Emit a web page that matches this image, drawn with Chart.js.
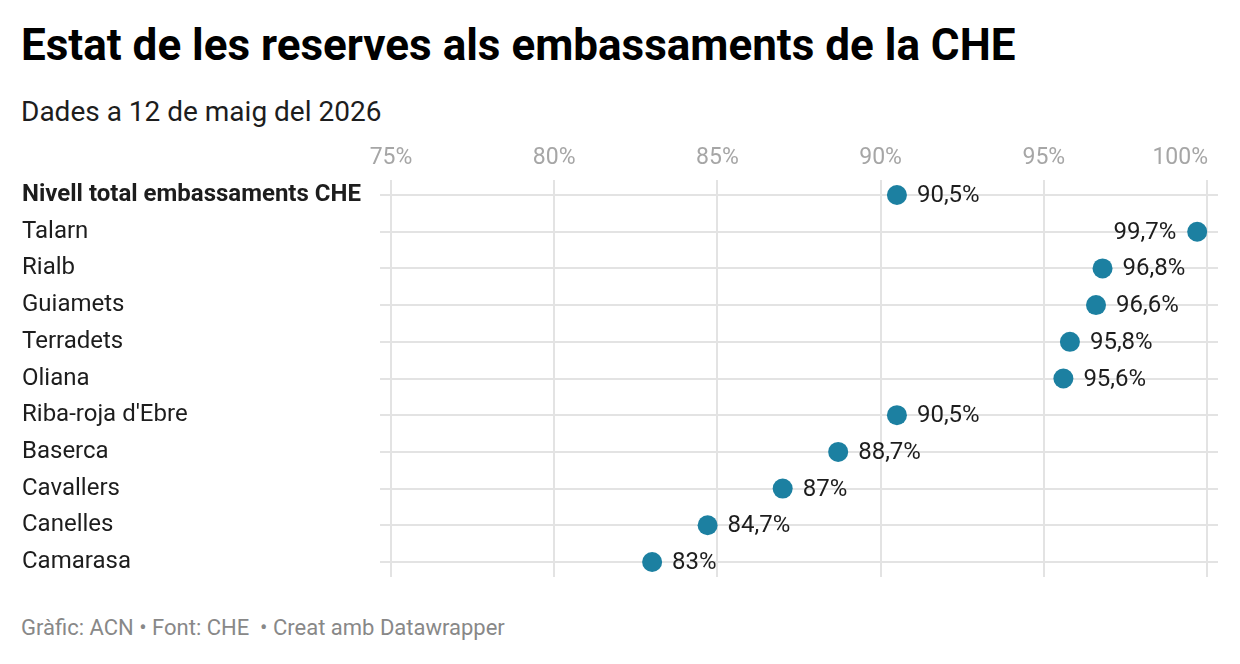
<!DOCTYPE html>
<html><head><meta charset="utf-8">
<script src="https://cdn.jsdelivr.net/npm/chart.js@4"></script>
<style>
html,body{margin:0;padding:0;background:#fff;width:1240px;height:664px;overflow:hidden;font-family:Roboto,"Noto Sans",sans-serif;}
#title{position:absolute;left:21px;top:19px;font-size:44px;font-weight:700;color:#000;white-space:nowrap}
#sub{position:absolute;left:21px;top:95px;font-size:28px;color:#1d1d1d;white-space:nowrap}
#foot{position:absolute;left:21px;top:615px;font-size:22px;color:#888;white-space:pre}
#wrap{position:absolute;left:0;top:0;width:1240px;height:664px}
</style></head><body>
<div id="title">Estat de les reserves als embassaments de la CHE</div>
<div id="sub">Dades a 12 de maig del 2026</div>
<div id="foot">Gràfic: ACN • Font: CHE  • Creat amb Datawrapper</div>
<div id="wrap"><canvas id="c" width="1240" height="664"></canvas></div>
<script>
const categories = ["Nivell total embassaments CHE","Talarn","Rialb","Guiamets","Terradets","Oliana","Riba-roja d'Ebre","Baserca","Cavallers","Canelles","Camarasa"];
const values = [90.5, 99.7, 96.8, 96.6, 95.8, 95.6, 90.5, 88.7, 87, 84.7, 83];
const valueLabels = ["90,5%","99,7%","96,8%","96,6%","95,8%","95,6%","90,5%","88,7%","87%","84,7%","83%"];
const xTicks = [75, 80, 85, 90, 95, 100];
const xTickLabels = ["75%","80%","85%","90%","95%","100%"];

const labelPlugin = {
  id: 'valLabels',
  afterDatasetsDraw(chart) {
    const ctx = chart.ctx;
    const meta = chart.getDatasetMeta(0);
    ctx.save();
    ctx.font = '24px Roboto';
    ctx.fillStyle = '#1d1d1d';
    ctx.textBaseline = 'middle';
    meta.data.forEach((pt, i) => {
      const left = values[i] > 99;
      ctx.textAlign = left ? 'right' : 'left';
      const x = left ? pt.x - 21 : pt.x + 20;
      ctx.fillText(valueLabels[i], x, pt.y + 1);
    });
    // last x tick label, right-aligned to its grid line
    const xs = chart.scales.x;
    const last = xTicks.length - 1;
    ctx.font = '23px Roboto';
    ctx.fillStyle = '#a6a6a6';
    ctx.textAlign = 'right';
    ctx.textBaseline = 'bottom';
    ctx.fillText(xTickLabels[last], xs.getPixelForValue(xTicks[last]) + 1, xs.bottom - 10);
    ctx.restore();
  }
};

new Chart(document.getElementById('c'), {
  type: 'scatter',
  data: {
    datasets: [{
      data: values.map((v, i) => ({x: v, y: i})),
      backgroundColor: '#1c80a1',
      borderColor: '#1c80a1',
      pointRadius: 10,
      pointHoverRadius: 10,
      borderWidth: 0
    }]
  },
  options: {
    responsive: false,
    animation: false,
    events: [],
    layout: {padding: {left: 22, right: 22, top: 140, bottom: 87}},
    plugins: {legend: {display: false}, tooltip: {enabled: false}},
    scales: {
      x: {
        type: 'linear',
        position: 'top',
        min: 74.663,
        max: 100.337,
        afterBuildTicks: (s) => { s.ticks = xTicks.map(v => ({value: v})); },
        afterFit: (s) => { s.height = 40; s.paddingLeft = 0; s.paddingRight = 0; },
        ticks: {
          callback: (v) => { const i = xTicks.indexOf(v); return i === xTicks.length - 1 ? '' : xTickLabels[i]; },
          color: '#a6a6a6',
          font: {family: 'Roboto', size: 23},
          padding: 8,
          maxRotation: 0,
          autoSkip: false
        },
        grid: {color: '#e3e3e3', lineWidth: 2, drawTicks: false},
        border: {display: false}
      },
      y: {
        type: 'linear',
        reverse: true,
        min: -0.41,
        max: 10.41,
        afterBuildTicks: (s) => { s.ticks = categories.map((c, i) => ({value: i})); },
        afterFit: (s) => { s.width = 358; s.paddingTop = 0; s.paddingBottom = 0; },
        ticks: {
          callback: (v) => categories[v],
          crossAlign: 'far',
          color: '#1d1d1d',
          font: (ctx) => ({family: 'Roboto', size: 24, weight: (ctx.tick && ctx.tick.value === 0) ? 'bold' : 'normal'}),
          autoSkip: false,
          padding: 0
        },
        grid: {color: '#e3e3e3', lineWidth: 2, drawTicks: false},
        border: {display: false}
      }
    }
  },
  plugins: [labelPlugin]
});
</script>
</body></html>
